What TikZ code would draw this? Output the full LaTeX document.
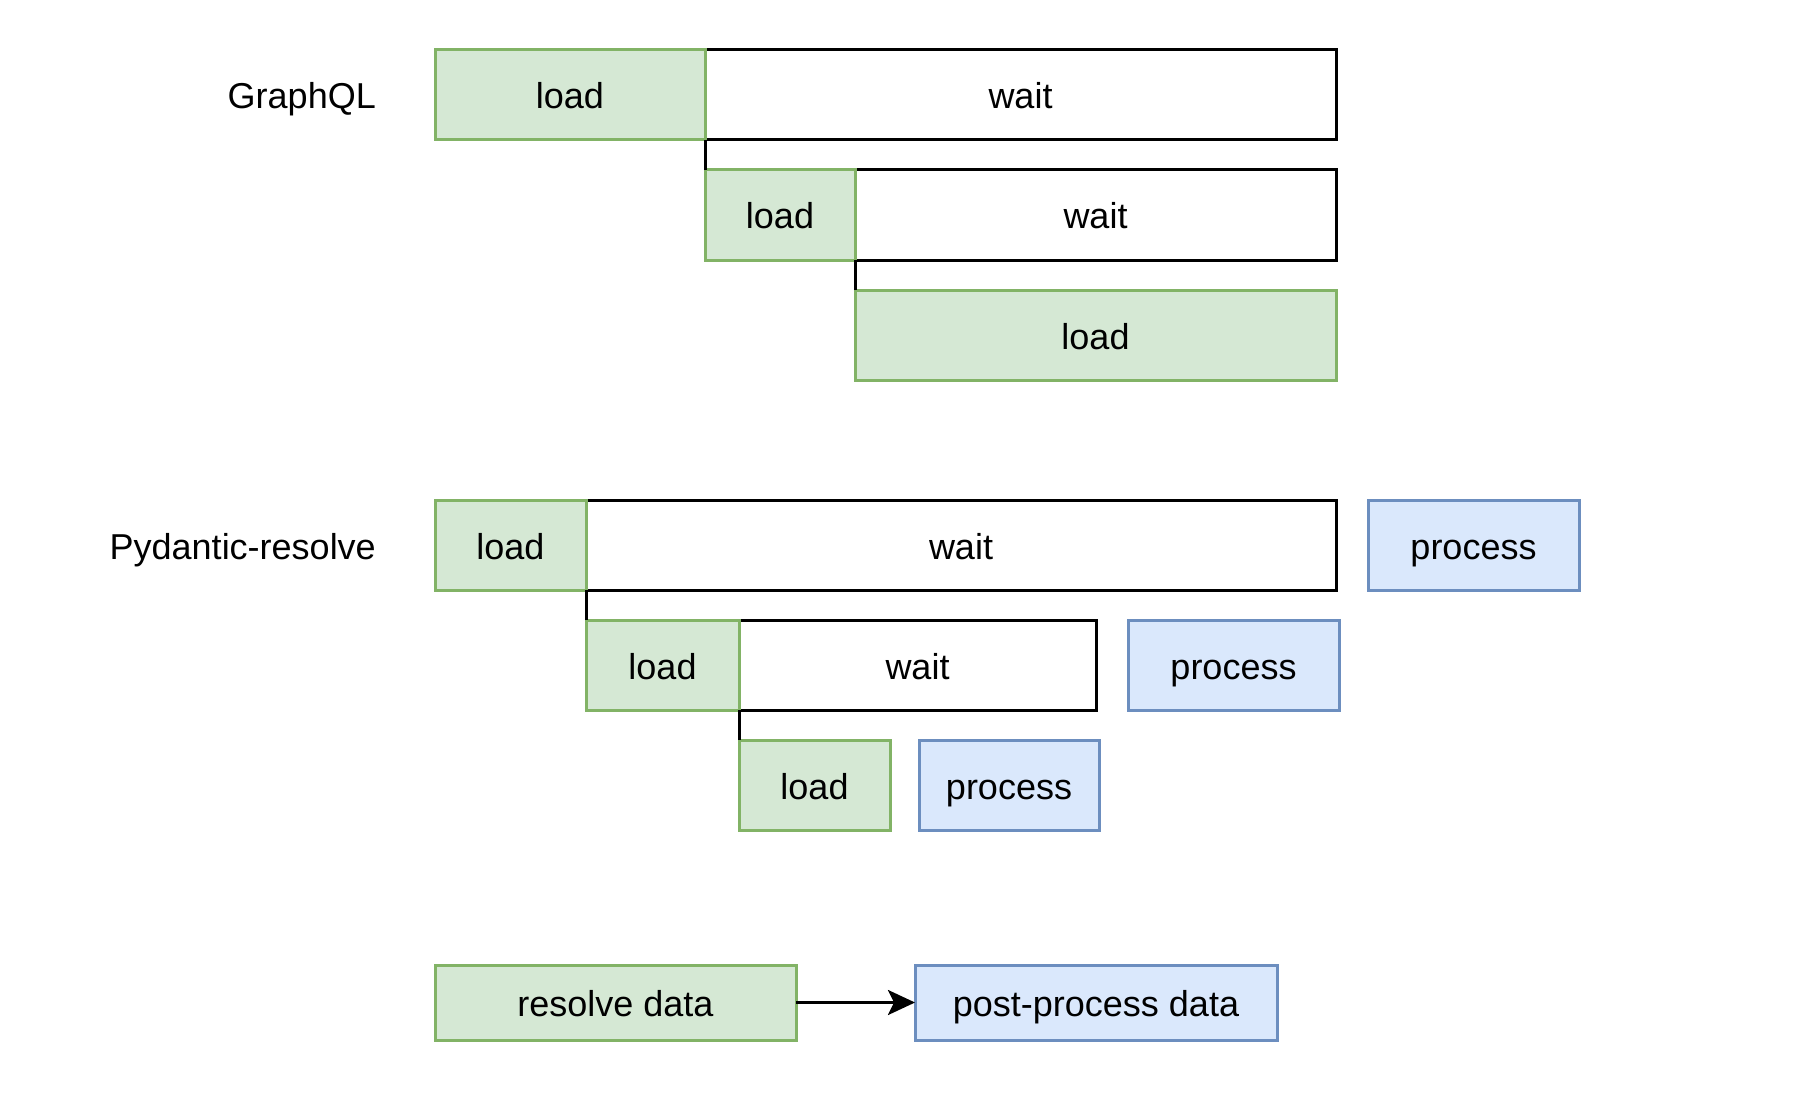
\documentclass[tikz,border=0pt]{standalone}
\usepackage{fontspec}
\setmainfont{Liberation Sans}
\usetikzlibrary{arrows.meta}
\definecolor{gfill}{HTML}{D5E8D4}
\definecolor{gline}{HTML}{82B366}
\definecolor{bfill}{HTML}{DAE8FC}
\definecolor{bline}{HTML}{6C8EBF}
\tikzset{
  base/.style={rectangle, line width=3pt, inner sep=0pt, outer sep=0pt,
    font=\fontsize{36}{43}\selectfont, text height=28pt, text depth=0pt},
  loadbox/.style={base, draw=gline, fill=gfill},
  waitbox/.style={base, draw=black, fill=white},
  procbox/.style={base, draw=bline, fill=bfill},
  lbl/.style={inner sep=0pt, anchor=east, font=\fontsize{36}{43}\selectfont, text height=28pt, text depth=0pt},
  conn/.style={line width=3pt, draw=black},
}
\newcommand{\bx}[7]{% style, name, x1, y1, x2, y2, text
  \node[#1, minimum width={#5-#3}, minimum height={#6-#4}] (#2) at ({(#3+#5)/2},{(#4+#6)/2}) {#7};}
\begin{document}
\begin{tikzpicture}[x=1pt,y=-1pt]
\useasboundingbox (0,0) rectangle (1810,1094);
% GraphQL
\node[lbl] (gql) at (376,95) {GraphQL};
\bx{waitbox}{gw1}{705}{50}{1336}{140}{wait}
\bx{loadbox}{gl1}{435}{50}{705}{140}{load}
\bx{waitbox}{gw2}{855}{170}{1336}{260}{wait}
\bx{loadbox}{gl2}{705}{170}{855}{260}{load}
\bx{loadbox}{gl3}{855}{290}{1336}{380}{load}
\draw[conn] (gl1.south east) -- (gl2.north west);
\draw[conn] (gl2.south east) -- (gl3.north west);
% Pydantic-resolve
\node[lbl] (pyd) at (376,545) {Pydantic-resolve};
\bx{waitbox}{pw1}{586}{500}{1336}{590}{wait}
\bx{loadbox}{pl1}{435}{500}{586}{590}{load}
\bx{procbox}{pp1}{1368}{500}{1579}{590}{process}
\bx{waitbox}{pw2}{739}{620}{1096}{710}{wait}
\bx{loadbox}{pl2}{586}{620}{739}{710}{load}
\bx{procbox}{pp2}{1128}{620}{1339}{710}{process}
\bx{loadbox}{pl3}{739}{740}{890}{830}{load}
\bx{procbox}{pp3}{919}{740}{1099}{830}{process}
\draw[conn] (pl1.south east) -- (pl2.north west);
\draw[conn] (pl2.south east) -- (pl3.north west);
% legend
\bx{loadbox}{rd}{435}{965}{796}{1040}{resolve data}
\bx{procbox}{pd}{915}{965}{1277}{1040}{post-process data}
\draw[conn, -{Stealth[length=27pt,width=25pt,inset=6pt]}] (rd.east) -- (pd.west);
\end{tikzpicture}
\end{document}
